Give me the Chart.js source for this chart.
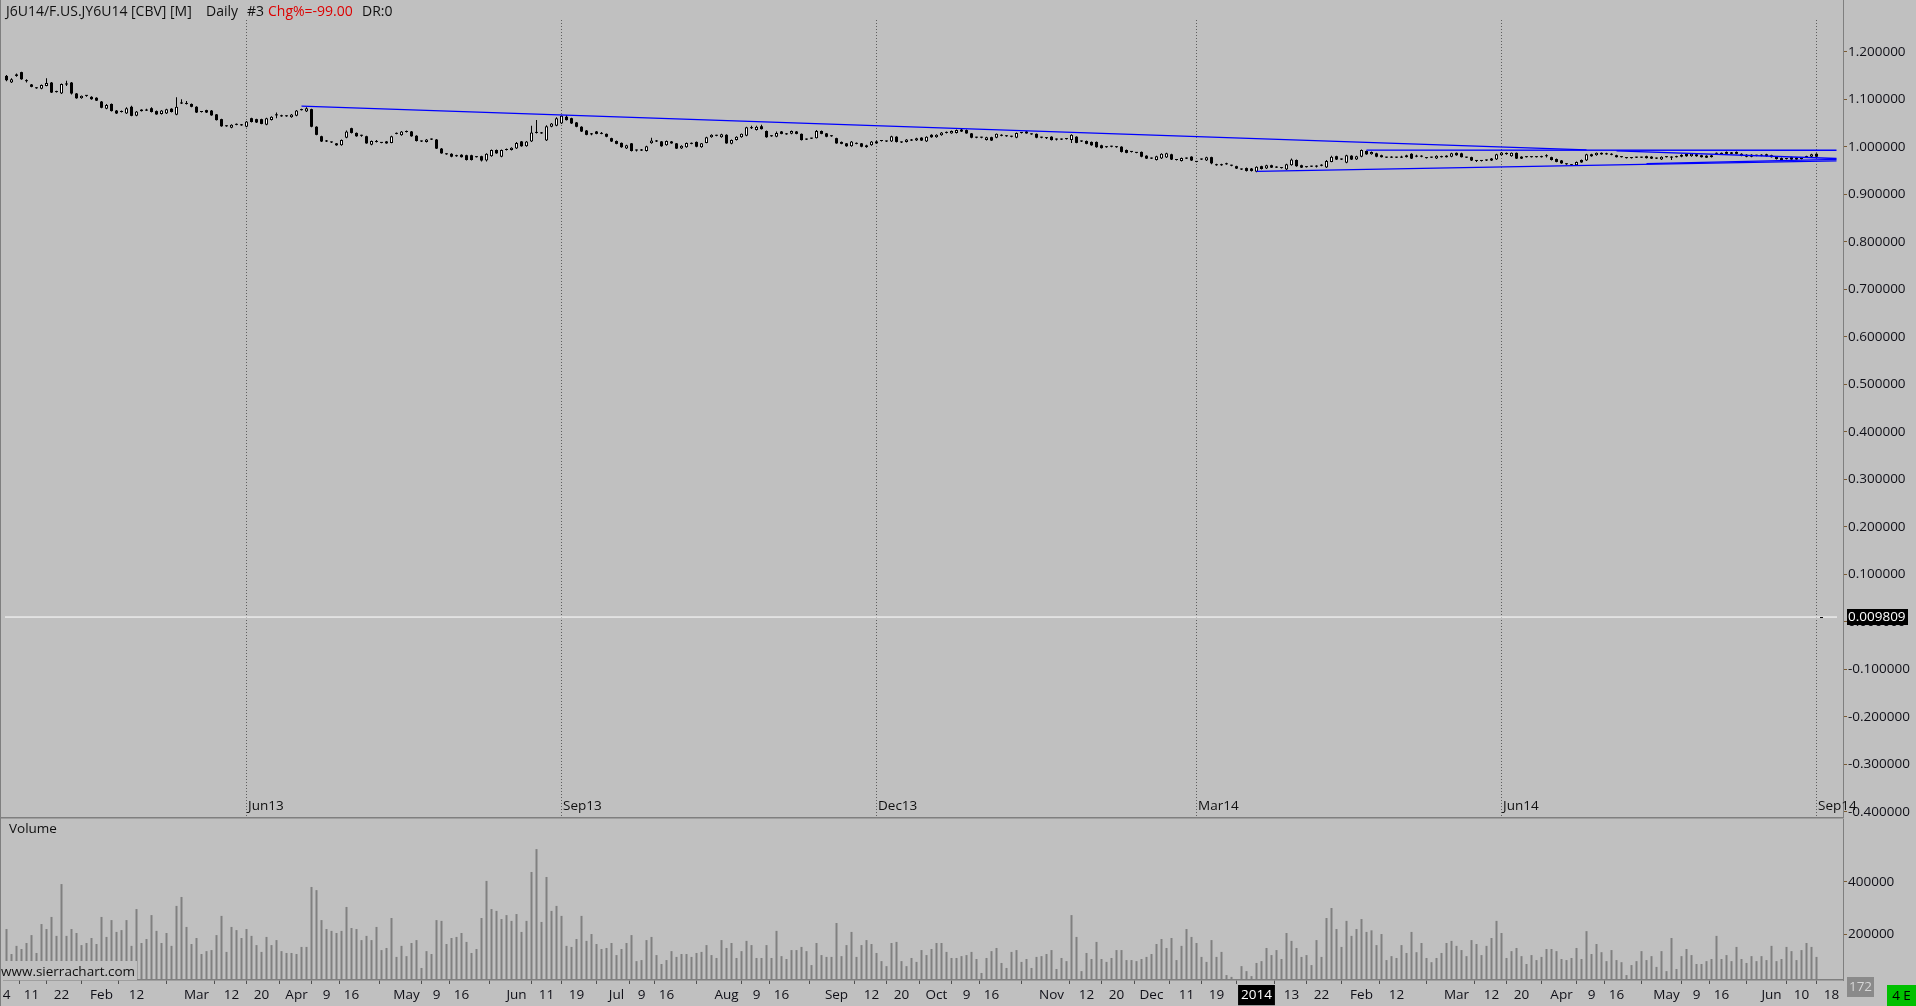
<!DOCTYPE html>
<html>
<head>
<meta charset="utf-8">
<title>J6U14 Daily</title>
<script src="https://cdn.jsdelivr.net/npm/chart.js@4.4.1/dist/chart.umd.min.js"></script>
<style>
html, body { margin: 0; padding: 0; background: #c0c0c0; overflow: hidden; }
#wrap { position: relative; width: 1916px; height: 1006px; }
canvas { position: absolute; left: 0; }
#price { top: 0; }
#volume { top: 817px; }
</style>
</head>
<body>
<div id="wrap">
  <canvas id="price" width="1916" height="817"></canvas>
  <canvas id="volume" width="1916" height="189"></canvas>
</div>
<script>
// daily bars, Jan 4 2013 .. Jun 16 2014 (index = bar number)
const opens = [
  1.149,1.135,1.152,1.157,1.139,1.131,1.124,1.122,1.128,1.135,
  1.117,1.112,1.132,1.135,1.112,1.102,1.108,1.105,1.103,1.095,
  1.080,1.090,1.076,1.074,1.070,1.084,1.065,1.078,1.077,1.081,
  1.075,1.069,1.070,1.080,1.067,1.092,1.091,1.090,1.084,1.074,
  1.077,1.076,1.068,1.058,1.044,1.040,1.047,1.046,1.042,1.060,
  1.058,1.058,1.046,1.056,1.067,1.065,1.065,1.062,1.065,1.078,
  1.074,1.079,1.042,1.022,1.012,1.010,1.007,1.003,1.019,1.039,
  1.029,1.024,1.022,1.004,1.011,1.009,1.011,1.008,1.028,1.024,
  1.032,1.032,1.023,1.012,1.010,1.016,1.015,0.996,0.985,0.985,
  0.981,0.983,0.982,0.982,0.979,0.980,0.971,0.980,0.993,0.979,
  0.994,0.993,0.996,1.011,1.001,1.011,1.030,1.029,1.013,1.042,
  1.044,1.049,1.063,1.060,1.051,1.042,1.034,1.027,1.032,1.028,
  1.027,1.018,1.012,1.008,0.996,1.007,0.993,0.993,0.991,1.007,
  1.012,1.011,1.003,1.011,1.007,0.996,0.999,1.007,1.010,0.999,
  1.008,1.020,1.024,1.020,1.025,1.006,1.014,1.020,1.023,1.040,
  1.035,1.043,1.033,1.023,1.021,1.032,1.027,1.027,1.032,1.027,
  1.016,1.018,1.018,1.033,1.028,1.023,1.018,1.010,1.007,1.001,
  1.007,1.007,0.999,1.003,1.011,1.013,1.012,1.011,1.021,1.010,
  1.010,1.014,1.013,1.019,1.011,1.025,1.020,1.024,1.030,1.028,
  1.029,1.036,1.035,1.028,1.020,1.020,1.014,1.020,1.019,1.024,
  1.023,1.022,1.019,1.030,1.032,1.027,1.027,1.020,1.019,1.021,
  1.016,1.016,1.017,1.014,1.021,1.012,1.012,1.010,1.010,1.003,
  1.000,1.001,1.000,1.000,0.993,0.990,0.988,0.989,0.981,0.976,
  0.972,0.975,0.977,0.984,0.973,0.970,0.976,0.979,0.969,0.974,
  0.971,0.978,0.962,0.962,0.964,0.961,0.959,0.953,0.955,0.954,
  0.947,0.959,0.954,0.961,0.957,0.956,0.952,0.961,0.972,0.961,
  0.958,0.959,0.959,0.961,0.956,0.968,0.980,0.974,0.966,0.981,
  0.973,0.979,0.991,0.984,0.986,0.982,0.978,0.978,0.978,0.978,
  0.978,0.985,0.980,0.980,0.977,0.978,0.975,0.979,0.981,0.979,
  0.987,0.986,0.978,0.978,0.971,0.971,0.972,0.975,0.973,0.982,
  0.984,0.980,0.987,0.979,0.979,0.979,0.979,0.979,0.981,0.978,
  0.974,0.971,0.964,0.962,0.961,0.972,0.971,0.984,0.982,0.987,
  0.985,0.984,0.982,0.979,0.977,0.977,0.978,0.978,0.980,0.979,
  0.976,0.973,0.979,0.978,0.980,0.979,0.985,0.980,0.984,0.982,
  0.981,0.978,0.986,0.987,0.989,0.988,0.989,0.985,0.983,0.983,
  0.982,0.982,0.984,0.982,0.979,0.976,0.975,0.978,0.977,0.977,
  0.979,0.979,0.985,0.009809
];
const highs = [
  1.151,1.144,1.154,1.158,1.142,1.132,1.125,1.131,1.144,1.136,
  1.118,1.133,1.139,1.136,1.113,1.108,1.109,1.106,1.104,1.096,
  1.090,1.091,1.077,1.076,1.083,1.086,1.075,1.079,1.080,1.083,
  1.076,1.077,1.080,1.081,1.104,1.100,1.096,1.091,1.085,1.075,
  1.078,1.077,1.069,1.059,1.045,1.047,1.049,1.048,1.054,1.061,
  1.059,1.059,1.061,1.064,1.072,1.067,1.066,1.069,1.077,1.080,
  1.083,1.080,1.043,1.023,1.014,1.011,1.008,1.015,1.034,1.040,
  1.030,1.025,1.023,1.013,1.014,1.010,1.012,1.023,1.030,1.033,
  1.034,1.033,1.024,1.013,1.016,1.017,1.016,0.997,0.986,0.986,
  0.983,0.984,0.983,0.983,0.980,0.981,0.986,0.994,0.994,0.994,
  0.996,0.999,1.010,1.012,1.012,1.044,1.056,1.031,1.045,1.050,
  1.062,1.066,1.066,1.061,1.052,1.043,1.035,1.029,1.033,1.031,
  1.028,1.019,1.013,1.009,1.004,1.008,0.994,0.995,1.002,1.019,
  1.014,1.012,1.013,1.012,1.008,1.003,1.009,1.009,1.011,1.008,
  1.021,1.026,1.025,1.027,1.026,1.015,1.022,1.028,1.042,1.044,
  1.044,1.046,1.034,1.024,1.032,1.033,1.029,1.034,1.033,1.028,
  1.017,1.019,1.035,1.034,1.029,1.024,1.019,1.011,1.008,1.012,
  1.009,1.008,1.004,1.012,1.013,1.014,1.013,1.023,1.022,1.011,
  1.016,1.016,1.019,1.020,1.022,1.026,1.026,1.031,1.032,1.034,
  1.036,1.037,1.036,1.029,1.021,1.021,1.021,1.021,1.028,1.026,
  1.024,1.023,1.030,1.031,1.033,1.028,1.028,1.021,1.020,1.022,
  1.017,1.017,1.018,1.026,1.022,1.013,1.013,1.011,1.011,1.004,
  1.001,1.002,1.001,1.001,0.994,0.991,0.989,0.990,0.982,0.977,
  0.981,0.986,0.987,0.985,0.974,0.977,0.977,0.980,0.970,0.975,
  0.979,0.979,0.964,0.964,0.966,0.962,0.960,0.954,0.956,0.955,
  0.959,0.960,0.962,0.962,0.959,0.957,0.964,0.975,0.973,0.962,
  0.959,0.960,0.961,0.963,0.972,0.981,0.981,0.975,0.983,0.982,
  0.981,0.994,0.992,0.990,0.987,0.983,0.979,0.980,0.979,0.981,
  0.983,0.986,0.983,0.982,0.978,0.979,0.982,0.981,0.982,0.987,
  0.988,0.987,0.979,0.979,0.972,0.972,0.973,0.976,0.985,0.989,
  0.988,0.988,0.988,0.980,0.980,0.980,0.980,0.981,0.984,0.979,
  0.975,0.972,0.965,0.963,0.969,0.973,0.985,0.985,0.988,0.988,
  0.987,0.986,0.983,0.980,0.978,0.978,0.979,0.979,0.981,0.980,
  0.977,0.980,0.980,0.980,0.981,0.984,0.986,0.986,0.985,0.983,
  0.982,0.983,0.988,0.988,0.990,0.989,0.990,0.986,0.984,0.984,
  0.983,0.984,0.985,0.983,0.980,0.977,0.976,0.979,0.978,0.978,
  0.981,0.985,0.986,0.009809
];
const lows = [
  1.138,1.134,1.147,1.141,1.135,1.125,1.122,1.121,1.127,1.113,
  1.114,1.111,1.128,1.110,1.101,1.101,1.105,1.099,1.096,1.081,
  1.079,1.074,1.069,1.072,1.069,1.064,1.064,1.074,1.075,1.072,
  1.067,1.068,1.069,1.072,1.066,1.090,1.089,1.083,1.071,1.072,
  1.071,1.065,1.055,1.042,1.042,1.039,1.045,1.044,1.041,1.051,
  1.050,1.047,1.045,1.055,1.060,1.063,1.063,1.061,1.064,1.076,
  1.073,1.041,1.024,1.010,1.010,1.008,1.002,1.002,1.018,1.028,
  1.021,1.021,1.006,1.003,1.009,1.007,1.006,1.007,1.026,1.023,
  1.030,1.021,1.011,1.010,1.009,1.014,0.995,0.985,0.983,0.978,
  0.979,0.977,0.971,0.971,0.977,0.969,0.969,0.979,0.985,0.978,
  0.992,0.992,0.995,1.000,1.000,1.010,1.028,1.027,1.012,1.041,
  1.043,1.048,1.055,1.048,1.041,1.031,1.024,1.024,1.026,1.026,
  1.020,1.010,1.005,0.998,0.995,0.990,0.990,0.991,0.990,1.006,
  1.010,1.000,1.002,1.006,0.995,0.995,0.998,1.005,0.999,0.998,
  1.007,1.019,1.022,1.019,1.006,1.005,1.013,1.019,1.022,1.037,
  1.034,1.036,1.019,1.021,1.020,1.026,1.025,1.026,1.026,1.013,
  1.014,1.016,1.017,1.026,1.020,1.021,1.006,1.005,1.000,1.000,
  1.005,0.999,0.998,1.002,1.006,1.011,1.010,1.010,1.009,1.008,
  1.009,1.012,1.012,1.012,1.010,1.019,1.019,1.023,1.028,1.027,
  1.028,1.031,1.027,1.018,1.018,1.018,1.013,1.012,1.018,1.022,
  1.021,1.020,1.018,1.028,1.027,1.025,1.018,1.018,1.016,1.013,
  1.013,1.014,1.015,1.008,1.007,1.010,1.005,1.002,0.998,0.996,
  0.998,0.999,0.998,0.988,0.986,0.988,0.986,0.978,0.974,0.974,
  0.971,0.974,0.976,0.972,0.971,0.969,0.974,0.970,0.967,0.972,
  0.970,0.963,0.960,0.960,0.962,0.959,0.953,0.951,0.948,0.948,
  0.946,0.952,0.953,0.955,0.955,0.954,0.951,0.960,0.958,0.955,
  0.956,0.957,0.956,0.959,0.955,0.967,0.972,0.972,0.965,0.972,
  0.972,0.978,0.983,0.983,0.978,0.977,0.976,0.976,0.976,0.976,
  0.977,0.974,0.978,0.978,0.975,0.976,0.974,0.977,0.977,0.978,
  0.981,0.977,0.976,0.970,0.968,0.969,0.970,0.970,0.972,0.981,
  0.983,0.979,0.974,0.974,0.977,0.977,0.977,0.977,0.977,0.971,
  0.967,0.964,0.962,0.960,0.960,0.966,0.970,0.979,0.981,0.983,
  0.983,0.982,0.977,0.977,0.975,0.975,0.976,0.976,0.975,0.974,
  0.974,0.972,0.977,0.972,0.977,0.978,0.979,0.979,0.979,0.977,
  0.976,0.977,0.984,0.983,0.984,0.984,0.984,0.980,0.978,0.978,
  0.980,0.980,0.979,0.977,0.973,0.971,0.973,0.972,0.972,0.973,
  0.977,0.978,0.978,0.009809
];
const closes = [
  1.140,1.142,1.149,1.142,1.138,1.126,1.123,1.130,1.134,1.114,
  1.115,1.132,1.131,1.112,1.102,1.107,1.107,1.100,1.097,1.082,
  1.088,1.075,1.070,1.073,1.081,1.065,1.074,1.075,1.076,1.073,
  1.068,1.076,1.079,1.073,1.084,1.091,1.090,1.084,1.072,1.073,
  1.072,1.066,1.056,1.043,1.043,1.046,1.046,1.045,1.053,1.052,
  1.051,1.048,1.060,1.063,1.066,1.064,1.064,1.068,1.076,1.077,
  1.081,1.042,1.025,1.011,1.011,1.009,1.003,1.014,1.032,1.029,
  1.022,1.023,1.007,1.012,1.010,1.008,1.007,1.022,1.027,1.032,
  1.031,1.022,1.012,1.011,1.015,1.015,0.996,0.986,0.984,0.979,
  0.980,0.978,0.972,0.972,0.978,0.971,0.985,0.993,0.986,0.993,
  0.993,0.998,1.008,1.001,1.011,1.030,1.029,1.028,1.043,1.049,
  1.060,1.065,1.056,1.049,1.042,1.032,1.025,1.026,1.027,1.027,
  1.021,1.011,1.006,0.999,1.003,0.991,0.992,0.992,1.001,1.013,
  1.011,1.001,1.012,1.007,0.996,1.002,1.008,1.006,1.000,1.007,
  1.020,1.025,1.023,1.026,1.007,1.014,1.021,1.027,1.041,1.039,
  1.042,1.037,1.020,1.022,1.029,1.027,1.026,1.033,1.027,1.014,
  1.015,1.017,1.033,1.027,1.021,1.022,1.007,1.006,1.001,1.011,
  1.006,1.000,1.003,1.011,1.007,1.012,1.011,1.022,1.010,1.009,
  1.015,1.013,1.018,1.013,1.021,1.020,1.025,1.030,1.029,1.033,
  1.035,1.032,1.028,1.019,1.019,1.019,1.020,1.013,1.027,1.023,
  1.022,1.021,1.029,1.029,1.028,1.026,1.019,1.019,1.018,1.014,
  1.015,1.015,1.016,1.025,1.008,1.011,1.006,1.003,0.999,0.997,
  0.999,1.000,0.999,0.989,0.987,0.989,0.987,0.979,0.975,0.975,
  0.980,0.985,0.986,0.973,0.972,0.976,0.975,0.971,0.968,0.973,
  0.978,0.965,0.961,0.961,0.963,0.960,0.954,0.952,0.949,0.949,
  0.958,0.953,0.961,0.956,0.956,0.955,0.963,0.973,0.959,0.956,
  0.957,0.958,0.958,0.960,0.970,0.979,0.973,0.973,0.982,0.973,
  0.980,0.993,0.984,0.989,0.979,0.978,0.977,0.977,0.977,0.977,
  0.982,0.975,0.979,0.979,0.976,0.977,0.981,0.978,0.978,0.986,
  0.982,0.978,0.977,0.971,0.970,0.970,0.971,0.971,0.984,0.988,
  0.987,0.987,0.975,0.975,0.978,0.978,0.978,0.978,0.980,0.972,
  0.968,0.965,0.963,0.961,0.968,0.967,0.984,0.980,0.987,0.984,
  0.984,0.983,0.978,0.978,0.976,0.976,0.977,0.977,0.976,0.975,
  0.975,0.979,0.978,0.977,0.978,0.983,0.980,0.985,0.980,0.978,
  0.977,0.982,0.985,0.984,0.985,0.985,0.985,0.981,0.979,0.979,
  0.981,0.981,0.980,0.978,0.974,0.972,0.974,0.973,0.973,0.974,
  0.978,0.984,0.979,0.009809
];
// volume in thousands of contracts
const volumesK = [
  220,125,156,144,167,197,129,239,220,266,
  194,391,194,220,205,159,167,186,163,266,
  190,254,209,216,254,156,296,167,182,273,
  213,167,205,156,308,342,228,163,186,125,
  136,140,197,270,133,228,216,186,220,194,
  159,133,190,159,178,136,129,129,125,152,
  152,380,368,254,220,213,205,213,304,224,
  220,178,194,178,228,140,148,262,114,156,
  117,167,178,72,136,125,254,251,163,186,
  190,205,171,129,144,262,403,296,289,258,
  273,251,277,209,251,437,524,247,418,289,
  308,270,156,152,182,270,175,201,163,144,
  148,167,121,144,167,197,98,102,178,190,
  121,87,102,136,114,125,125,114,129,133,
  159,121,110,178,148,167,110,136,175,159,
  110,110,159,110,213,117,106,140,140,152,
  136,83,167,121,114,114,243,117,159,209,
  114,159,178,163,129,98,79,167,171,98,
  79,110,95,140,121,144,167,167,133,110,
  110,117,121,133,106,53,110,136,148,91,
  72,133,140,95,106,72,114,117,125,140,
  68,110,98,273,190,60,129,106,171,106,
  95,110,140,140,102,102,98,106,114,125,
  163,182,148,186,102,156,220,190,167,114,
  95,178,114,133,45,38,30,79,60,41,
  91,98,148,121,140,106,205,175,148,114,
  121,83,178,114,262,300,220,152,251,194,
  220,258,209,215,159,201,102,117,110,159,
  129,209,132,167,110,94,110,129,167,175,
  156,140,117,178,163,121,156,186,251,205,
  110,136,148,117,87,121,102,114,144,144,
  136,106,102,110,148,106,212,125,163,132,
  98,140,102,94,45,83,98,136,102,117,
  76,136,60,186,68,117,144,121,87,87,
  98,106,194,106,121,98,152,106,91,117,
  98,117,102,156,98,106,152,136,102,140,
  167,152,114,0.172
];

const priceTicks = [1.2, 1.1, 1.0, 0.9, 0.8, 0.7, 0.6, 0.5, 0.4, 0.3, 0.2, 0.1, 0, -0.1, -0.2, -0.3, -0.4];
const volumeTicks = [200000, 400000];

const dateIdx = [0, 5, 11, 19, 26, 38, 45, 51, 58, 64, 69, 80, 86, 91, 102, 108, 114, 122, 127, 132,
  144, 150, 155, 166, 173, 179, 186, 192, 197, 209, 216, 222, 229, 236, 242, 250, 257, 263,
  271, 278, 290, 297, 303, 311, 317, 322, 332, 338, 343, 353, 359, 365];
const dateText = ['4', '11', '22', 'Feb', '12', 'Mar', '12', '20', 'Apr', '9', '16', 'May', '9', '16', 'Jun', '11', '19', 'Jul', '9', '16',
  'Aug', '9', '16', 'Sep', '12', '20', 'Oct', '9', '16', 'Nov', '12', '20', 'Dec', '11', '19', '2014', '13', '22',
  'Feb', '12', 'Mar', '12', '20', 'Apr', '9', '16', 'May', '9', '16', 'Jun', '10', '18'];

const rollIdx = [48, 111, 174, 238, 299, 362];
const rollText = ['Jun13', 'Sep13', 'Dec13', 'Mar14', 'Jun14', 'Sep14'];

// hand drawn lines: [bar, price] pairs
const trendA = [[59, 1.0856], [316, 0.9935]];
const trendB = [[272, 0.9928], [366, 0.9925]];
const trendC = [[250, 0.9480], [366, 0.9700]];
const trendD = [[322, 0.9910], [366, 0.9752]];
const trendE = [[328, 0.9645], [366, 0.9735]];

const lastPrice = closes[closes.length - 1];

const FONT = "'Open Sans', 'DejaVu Sans', sans-serif";
Chart.defaults.font.family = FONT;
Chart.defaults.font.size = 13.5;
Chart.defaults.color = '#101018';
Chart.defaults.animation = false;

const X_MIN = -0.5, X_MAX = 367.3;
const AXIS_W = 73;

const isUp = closes.map((c, i) => c > opens[i]);

function lineSet(pts, color, width, order) {
    return {
        type: 'line',
        data: pts.map(p => ({x: p[0], y: p[1]})),
        borderColor: color,
        borderWidth: width,
        pointRadius: 0,
        tension: 0,
        order: order
    };
}

const pricePane = {
    id: 'pricePane',
    beforeDatasetsDraw(chart) {
        const {ctx, chartArea, scales} = chart;
        ctx.save();
        ctx.strokeStyle = '#5e5e5e';
        ctx.lineWidth = 1;
        ctx.setLineDash([1, 2]);
        rollIdx.forEach(i => {
            const x = Math.floor(scales.x.getPixelForValue(i)) + 0.5;
            ctx.beginPath();
            ctx.moveTo(x, 20);
            ctx.lineTo(x, chartArea.bottom);
            ctx.stroke();
        });
        ctx.restore();
    },
    afterDraw(chart) {
        const {ctx, chartArea, scales} = chart;
        ctx.save();
        ctx.font = '13.5px ' + FONT;
        ctx.textBaseline = 'middle';
        ctx.fillStyle = '#101010';
        rollIdx.forEach((i, k) => {
            const x = Math.floor(scales.x.getPixelForValue(i)) + 2;
            ctx.fillText(rollText[k], x, 806);
        });

        // title line
        ctx.font = '14px ' + FONT;
        const parts = [
            ['J6U14/F.US.JY6U14 [CBV] [M]', 6, '#101010'],
            ['Daily', 206, '#101010'],
            ['#3', 247, '#101010'],
            ['Chg%=-99.00', 268, '#dd0000'],
            ['DR:0', 362, '#101010']
        ];
        parts.forEach(p => {
            ctx.fillStyle = p[2];
            ctx.fillText(p[0], p[1], 12);
        });

        // last price marker on the axis
        const y = scales.y.getPixelForValue(lastPrice);
        ctx.fillStyle = '#000';
        ctx.fillRect(chartArea.right + 4, Math.round(y) - 8, 61, 16);
        ctx.fillStyle = '#fff';
        ctx.font = '13.5px ' + FONT;
        ctx.fillText(lastPrice.toFixed(6), chartArea.right + 5, Math.round(y));

        ctx.fillStyle = '#7f7f7f';
        ctx.fillRect(0, 0, 1, chart.height);
        ctx.restore();
    }
};

new Chart(document.getElementById('price'), {
    type: 'bar',
    data: {
        datasets: [
            {
                type: 'line',
                data: [{x: -0.3, y: lastPrice}, {x: 366.1, y: lastPrice}],
                borderColor: '#ffffff',
                borderWidth: 1,
                pointRadius: 0,
                order: 9
            },
            {
                data: lows.map((l, i) => ({x: i, y: [l, highs[i]]})),
                backgroundColor: '#000',
                barThickness: 1,
                grouped: false,
                inflateAmount: 0,
                order: 5
            },
            {
                data: opens.map((o, i) => ({x: i, y: [o, closes[i]]})),
                backgroundColor: isUp.map(u => u ? '#ffffff' : '#000000'),
                borderColor: '#000',
                borderWidth: isUp.map(u => u ? 1 : 0),
                borderSkipped: false,
                barThickness: 3,
                minBarLength: 1,
                grouped: false,
                inflateAmount: 0,
                order: 4
            },
            lineSet(trendA, '#0000ff', 1.3, 1),
            lineSet(trendB, '#0000ff', 1.3, 1),
            lineSet(trendC, '#0000ff', 1.3, 1),
            lineSet(trendD, '#0000ff', 1.3, 1),
            lineSet(trendE, '#0000ff', 1.3, 1)
        ]
    },
    options: {
        responsive: false,
        devicePixelRatio: 1,
        events: [],
        layout: {padding: {left: 4, right: 0, top: 0, bottom: 0}},
        plugins: {legend: {display: false}, tooltip: {enabled: false}},
        scales: {
            x: {type: 'linear', min: X_MIN, max: X_MAX, offset: false, display: false},
            y: {
                type: 'linear',
                position: 'right',
                min: -0.41116,
                max: 1.30884,
                afterBuildTicks: s => { s.ticks = priceTicks.map(v => ({value: v})); },
                afterFit: s => { s.width = AXIS_W; s.paddingTop = 0; s.paddingBottom = 0; },
                ticks: {callback: v => v.toFixed(6), padding: 1},
                grid: {drawOnChartArea: false, tickLength: 4, tickColor: '#7a5a32'},
                border: {display: true, color: '#7f7f7f', width: 1}
            }
        }
    },
    plugins: [pricePane]
});

const volumePane = {
    id: 'volumePane',
    afterDraw(chart) {
        const {ctx, chartArea} = chart;
        ctx.save();
        ctx.fillStyle = '#7f7f7f';
        ctx.fillRect(0, 0, chartArea.right + 1, 1.5);
        ctx.fillRect(0, 0, 1, chart.height);

        ctx.font = '13.5px ' + FONT;
        ctx.textBaseline = 'middle';
        ctx.fillStyle = '#101010';
        ctx.fillText('Volume', 9, 12);

        // watermark sits on its own background box
        ctx.fillStyle = '#c0c0c0';
        ctx.fillRect(1, chartArea.bottom - 19, 136, 19);
        ctx.fillStyle = '#101010';
        ctx.fillText('www.sierrachart.com', 1, chartArea.bottom - 8);

        // last bar volume marker
        const lastVol = Math.round(volumesK[volumesK.length - 1] * 1000);
        ctx.fillStyle = '#8a8a8a';
        ctx.fillRect(chartArea.right + 4, chartArea.bottom - 3, 27, 20);
        ctx.fillStyle = '#d6d6d6';
        ctx.textAlign = 'center';
        ctx.fillText(String(lastVol), chartArea.right + 17.5, chartArea.bottom + 7);

        ctx.fillStyle = '#00c000';
        ctx.fillRect(1887, chart.height - 21, 29, 21);
        ctx.fillStyle = '#000';
        ctx.fillText('4 E', 1901.5, chart.height - 10);
        ctx.restore();
    }
};

new Chart(document.getElementById('volume'), {
    type: 'bar',
    data: {
        datasets: [{
            data: volumesK.map((v, i) => ({x: i, y: v * 1000})),
            backgroundColor: '#808080',
            barThickness: 2,
            inflateAmount: 0
        }]
    },
    options: {
        responsive: false,
        devicePixelRatio: 1,
        events: [],
        layout: {padding: {left: 4, right: 0, top: 2, bottom: 0}},
        plugins: {legend: {display: false}, tooltip: {enabled: false}},
        scales: {
            x: {
                type: 'linear',
                min: X_MIN,
                max: X_MAX,
                offset: false,
                afterBuildTicks: s => { s.ticks = dateIdx.map(v => ({value: v})); },
                afterFit: s => { s.height = 26; s.paddingLeft = 0; s.paddingRight = 0; },
                ticks: {
                    autoSkip: false,
                    maxRotation: 0,
                    minRotation: 0,
                    padding: 3,
                    callback: (v, i) => dateText[i],
                    color: c => (c.tick && c.tick.label === '2014') ? '#ffffff' : '#101018',
                    showLabelBackdrop: c => !!(c.tick && c.tick.label === '2014'),
                    backdropColor: '#000000',
                    backdropPadding: {x: 3, y: 2}
                },
                grid: {drawOnChartArea: false, tickLength: 4, tickColor: '#505050'},
                border: {display: true, color: '#7f7f7f', width: 1.5}
            },
            y: {
                type: 'linear',
                position: 'right',
                min: 26200,
                max: 638400,
                afterBuildTicks: s => { s.ticks = volumeTicks.map(v => ({value: v})); },
                afterFit: s => { s.width = AXIS_W; s.paddingTop = 0; s.paddingBottom = 0; },
                ticks: {callback: v => String(v), padding: 1},
                grid: {drawOnChartArea: false, tickLength: 4, tickColor: '#7a5a32'},
                border: {display: true, color: '#7f7f7f', width: 1}
            }
        }
    },
    plugins: [volumePane]
});
</script>
</body>
</html>
